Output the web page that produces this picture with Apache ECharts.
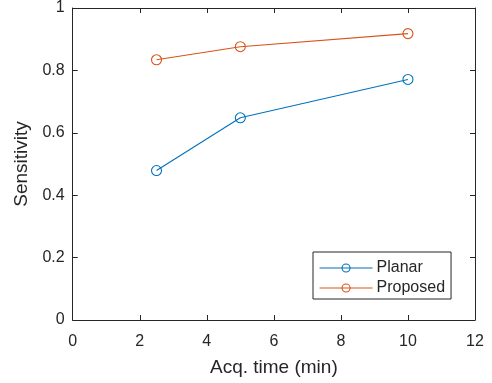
<!DOCTYPE html>
<html>
<head>
<meta charset="utf-8">
<script src="https://cdn.jsdelivr.net/npm/echarts@6/dist/echarts.min.js"></script>
<style>
  html, body { margin: 0; padding: 0; background: #fff; }
  #chart { width: 492px; height: 383px; }
</style>
</head>
<body>
<div id="chart"></div>
<script>
// acquisition times (min)
const acqTimes = [2.5, 5, 10];
const planar = [0.479, 0.648, 0.771];
const proposed = [0.834, 0.876, 0.918];
const xTicks = [0, 2, 4, 6, 8, 10, 12];
const yTicks = [0, 0.2, 0.4, 0.6, 0.8, 1];

const ink = "#262626";
const font = "Liberation Sans, Arial, sans-serif";
const blue = "#0072BD";
const orange = "#D95319";

const chart = echarts.init(document.getElementById("chart"));

const tickStyle = { show: true, inside: true, length: 5, lineStyle: { color: ink, width: 1 } };
const axisLine = { show: true, onZero: false, lineStyle: { color: ink, width: 1 } };

let option = {
  animation: false,
  grid: { left: 72.7, right: 17, top: 7, bottom: 63, containLabel: false },
  xAxis: [
    {
      type: "value",
      min: xTicks[0],
      max: xTicks[xTicks.length - 1],
      interval: 2,
      name: "Acq. time (min)",
      nameLocation: "middle",
      nameGap: 38,
      nameTextStyle: { color: ink, fontSize: 19, fontFamily: font },
      axisLine: axisLine,
      axisTick: tickStyle,
      axisLabel: { color: ink, fontSize: 16, fontFamily: font, margin: 14 },
      splitLine: { show: false },
    },
    {
      type: "value",
      position: "top",
      min: xTicks[0],
      max: xTicks[xTicks.length - 1],
      interval: 2,
      axisLine: axisLine,
      axisTick: tickStyle,
      axisLabel: { show: false },
      splitLine: { show: false },
    },
  ],
  yAxis: [
    {
      type: "value",
      min: yTicks[0],
      max: yTicks[yTicks.length - 1],
      interval: 0.2,
      name: "Sensitivity",
      nameLocation: "middle",
      nameGap: 36,
      nameTextStyle: { color: ink, fontSize: 19, fontFamily: font },
      axisLine: axisLine,
      axisTick: tickStyle,
      axisLabel: {
        color: ink,
        fontSize: 16,
        fontFamily: font,
        margin: 8,
        formatter: (v) => String(Math.round(v * 10) / 10),
      },
      splitLine: { show: false },
    },
    {
      type: "value",
      position: "right",
      min: yTicks[0],
      max: yTicks[yTicks.length - 1],
      interval: 0.2,
      axisLine: axisLine,
      axisTick: tickStyle,
      axisLabel: { show: false },
      splitLine: { show: false },
    },
  ],
  legend: {
    orient: "vertical",
    left: 313,
    top: 252,
    padding: [8, 6, 3, 6],
    itemWidth: 53,
    itemHeight: 10,
    itemGap: 4,
    backgroundColor: "#fff",
    borderColor: ink,
    borderWidth: 1,
    borderRadius: 0,
    lineStyle: { width: 1.1 },
    itemStyle: { borderWidth: 1.1 },
    textStyle: { color: ink, fontSize: 16, fontFamily: font, padding: [0, 0, 0, -1] },
    data: ["Planar", "Proposed"],
  },
  series: [
    {
      name: "Planar",
      type: "line",
      data: acqTimes.map((t, i) => [t, planar[i]]),
      symbol: "circle",
      symbolSize: 10,
      lineStyle: { width: 1.1, color: blue },
      itemStyle: { color: "rgba(255,255,255,0)", borderColor: blue, borderWidth: 1.1 },
    },
    {
      name: "Proposed",
      type: "line",
      data: acqTimes.map((t, i) => [t, proposed[i]]),
      symbol: "circle",
      symbolSize: 10,
      lineStyle: { width: 1.1, color: orange },
      itemStyle: { color: "rgba(255,255,255,0)", borderColor: orange, borderWidth: 1.1 },
    },
  ],
};

chart.setOption(option);
</script>
</body>
</html>
